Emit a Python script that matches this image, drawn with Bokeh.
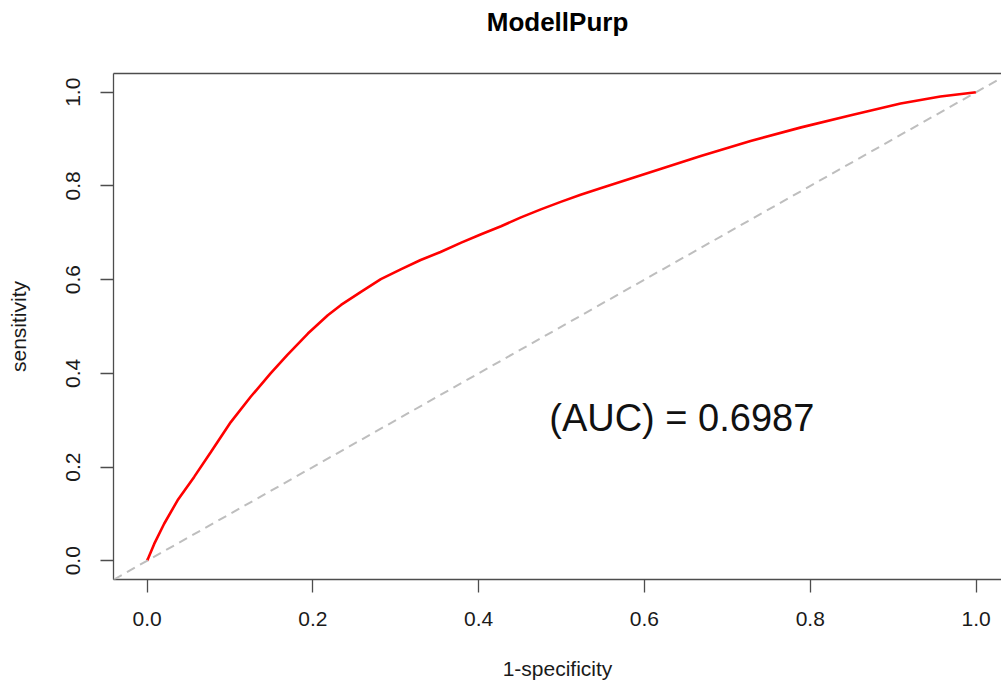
from bokeh.plotting import figure
from bokeh.models import Range1d, LinearAxis, FixedTicker, NumeralTickFormatter, Slope
from bokeh.core.properties import value
from bokeh.embed import file_html
from bokeh.resources import INLINE

# ---- data ----
title_text = "ModellPurp"
x_label = "1-specificity"
y_label = "sensitivity"
auc_text = ["(AUC) = 0.6987"]
auc_x = [0.645]
auc_y = [0.305]

fpr = [0.0, 0.001, 0.0086, 0.0206, 0.0368, 0.0568, 0.077, 0.101, 0.125, 0.149,
       0.169, 0.194, 0.218, 0.234, 0.258, 0.282, 0.306, 0.330, 0.354, 0.379,
       0.403, 0.427, 0.451, 0.475, 0.499, 0.523, 0.547, 0.608, 0.668, 0.728,
       0.789, 0.849, 0.909, 0.957, 1.0]
tpr = [0.0, 0.004, 0.036, 0.079, 0.129, 0.179, 0.232, 0.296, 0.350, 0.400,
       0.439, 0.485, 0.524, 0.546, 0.574, 0.601, 0.622, 0.642, 0.659, 0.679,
       0.697, 0.714, 0.733, 0.750, 0.766, 0.781, 0.795, 0.830, 0.864, 0.896,
       0.925, 0.951, 0.976, 0.991, 1.0]

tick_values = [0.0, 0.2, 0.4, 0.6, 0.8, 1.0]

FONT = "Liberation Sans"
AXIS_COL = "#4d4d4d"

p = figure(width=1001, height=687, output_backend="svg", toolbar_location=None,
           x_range=Range1d(-0.0405, 1.0307), y_range=Range1d(-0.04, 1.04),
           min_border_left=113, min_border_right=0, min_border_top=73,
           min_border_bottom=108,
           x_axis_label=x_label, y_axis_label=y_label)

p.background_fill_color = "white"
p.border_fill_color = "white"
p.outline_line_color = None
p.xgrid.visible = False
p.ygrid.visible = False

for ax in (p.xaxis[0], p.yaxis[0]):
    ax.ticker = FixedTicker(ticks=tick_values)
    ax.formatter = NumeralTickFormatter(format="0.0")
    ax.axis_line_color = AXIS_COL
    ax.axis_line_width = 1.3
    ax.major_tick_line_color = AXIS_COL
    ax.major_tick_line_width = 1.3
    ax.major_tick_out = 13
    ax.major_tick_in = 0
    ax.minor_tick_line_color = None
    ax.major_label_text_font = FONT
    ax.major_label_text_font_size = "21px"
    ax.major_label_text_color = "#1a1a1a"
    ax.axis_label_text_font = FONT
    ax.axis_label_text_font_size = "21px"
    ax.axis_label_text_font_style = "normal"
    ax.axis_label_text_color = "#1a1a1a"

p.xaxis[0].major_label_standoff = 19
p.xaxis[0].axis_label_standoff = 28
p.yaxis[0].major_label_orientation = "vertical"
p.yaxis[0].major_label_standoff = 20
p.yaxis[0].axis_label_standoff = 34

# top border of the box, carrying the title as its label
top = LinearAxis(ticker=FixedTicker(ticks=[]), major_tick_out=0, major_tick_in=0,
                 minor_tick_line_color=None, major_label_text_font_size="0px",
                 axis_line_color=AXIS_COL, axis_line_width=1.3, major_label_standoff=0,
                 axis_label=title_text, axis_label_text_font=FONT,
                 axis_label_text_font_size="26px", axis_label_text_font_style="bold",
                 axis_label_text_color="#000000", axis_label_standoff=37)
p.add_layout(top, "above")

# diagonal reference
p.add_layout(Slope(gradient=1, y_intercept=0, line_color="#bebebe",
                   line_width=2, line_dash="9 6"))

# ROC curve
p.line(fpr, tpr, line_color="#ff0000", line_width=2.6)

# AUC text
p.text(x=auc_x, y=auc_y, text=auc_text, text_font=value(FONT),
       text_font_size="38px", text_align="center", text_baseline="middle",
       text_color="#111111")

open("out.html", "w").write(file_html(p, INLINE))
